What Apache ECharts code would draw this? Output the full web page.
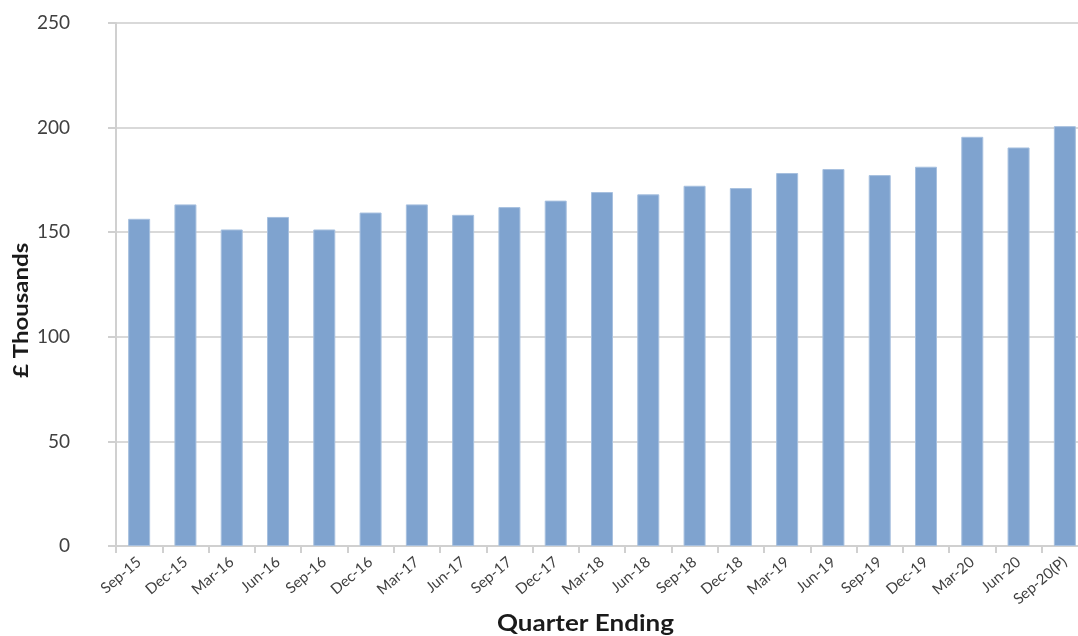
<!DOCTYPE html>
<html>
<head>
<meta charset="utf-8">
<script src="https://cdn.jsdelivr.net/npm/echarts@6/dist/echarts.min.js"></script>
<style>
html,body{margin:0;padding:0;background:#fff;overflow:hidden;}
#chart{width:1078px;height:636px;}
</style>
</head>
<body>
<div id="chart"></div>
<script>
var categories = ['Sep-15','Dec-15','Mar-16','Jun-16','Sep-16','Dec-16','Mar-17','Jun-17','Sep-17','Dec-17','Mar-18','Jun-18','Sep-18','Dec-18','Mar-19','Jun-19','Sep-19','Dec-19','Mar-20','Jun-20','Sep-20(P)'];
var values = [156.4,163.3,151.3,157.3,151.3,159.4,163.3,158.3,162.0,165.1,169.2,168.1,172.2,171.1,178.3,180.2,177.3,181.3,195.6,190.5,200.7];
var yTicks = [0,50,100,150,200,250];
var xTitle = 'Quarter Ending';
var yTitle = '£ Thousands';

var chart = echarts.init(document.getElementById('chart'));
chart.setOption({
  animation: false,
  grid: {left: 116, top: 23, right: -10, bottom: 90, containLabel: false, outerBoundsMode: 'none'},
  graphic: [
    {type: 'text', x: 497, y: 612, scaleX: 1.13,
      style: {text: xTitle, fontFamily: 'Lato', fontWeight: 'bold', fontSize: 23, fill: '#1a1a1a'}},
    {type: 'text', x: 12, y: 378, rotation: Math.PI / 2, scaleX: 1.2, scaleY: 1.0,
      style: {text: yTitle, fontFamily: 'Lato', fontWeight: 'bold', fontSize: 20, fill: '#1a1a1a', align: 'left', verticalAlign: 'top'}}
  ],
  xAxis: {
    type: 'category',
    data: categories,
    axisLine: {lineStyle: {color: '#d0d0d0', width: 2}},
    axisTick: {show: true, alignWithLabel: false, length: 7, lineStyle: {color: '#d0d0d0', width: 2}},
    axisLabel: {rotate: 40, fontFamily: 'Lato', fontSize: 15, color: '#404040', margin: 14, interval: 0}
  },
  yAxis: {
    type: 'value',
    min: 0, max: 250, interval: 50,
    axisLine: {show: true, lineStyle: {color: '#d0d0d0', width: 2}},
    axisTick: {show: true, length: 8, lineStyle: {color: '#d0d0d0', width: 2}},
    axisLabel: {fontFamily: 'Lato', fontSize: 19, color: '#404040', margin: 46,
      formatter: function(v){ return yTicks.indexOf(v) >= 0 ? String(v) : ''; }},
    splitLine: {lineStyle: {color: '#d9d9d9', width: 2}}
  },
  series: [{
    type: 'bar',
    data: values,
    barWidth: 22,
    itemStyle: {color: '#7fa3cf', borderColor: '#a7c0df', borderWidth: 1}
  }]
});
</script>
</body>
</html>
